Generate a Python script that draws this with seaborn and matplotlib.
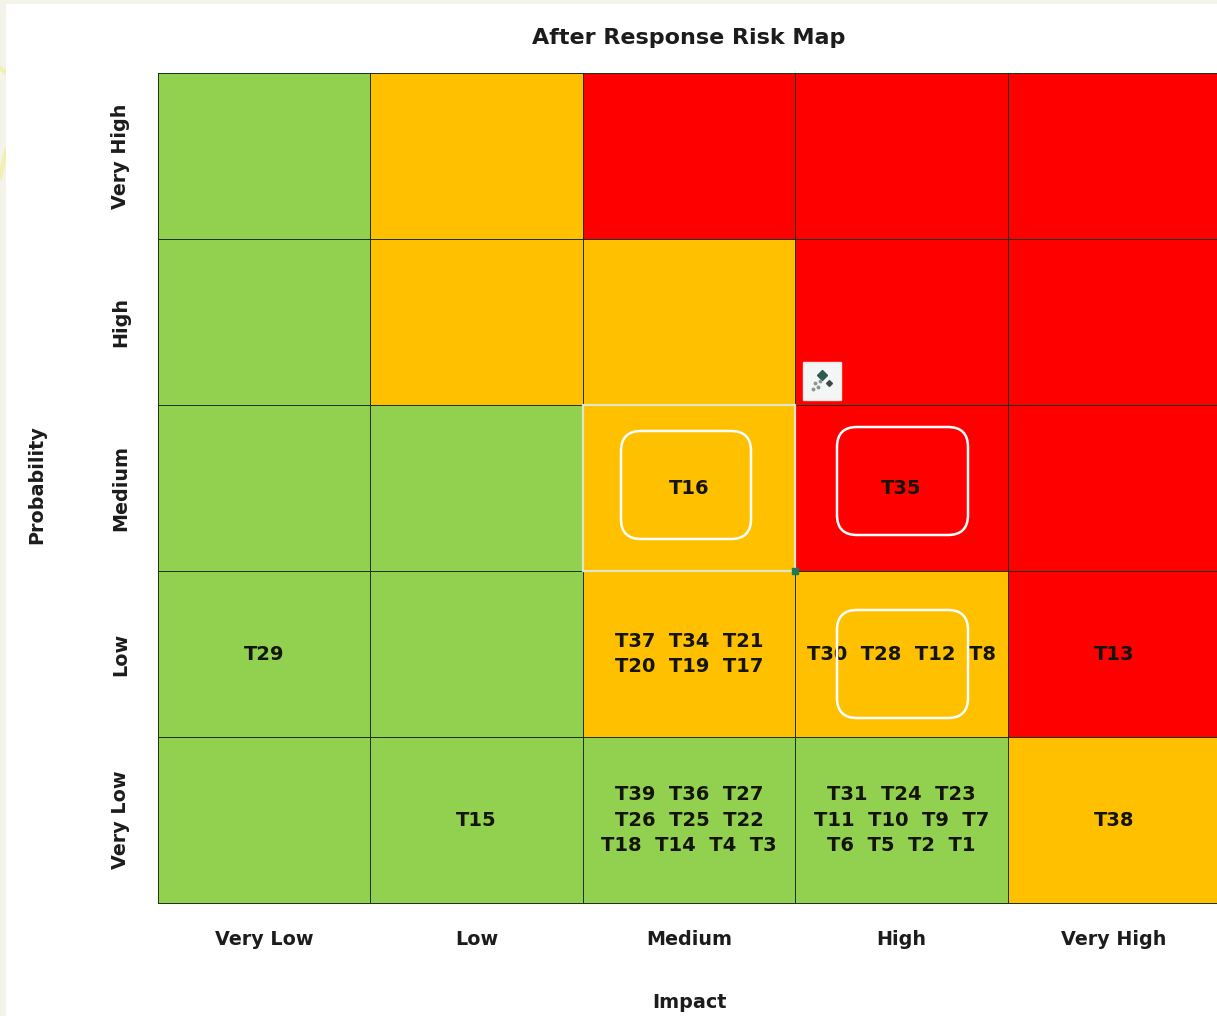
import numpy as np
import seaborn as sns
import matplotlib
matplotlib.use("Agg")
import matplotlib.pyplot as plt
from matplotlib.colors import ListedColormap
from matplotlib.lines import Line2D
from matplotlib.patches import FancyBboxPatch, Rectangle
from matplotlib.transforms import IdentityTransform

W, H = 1217, 1016

impact = ['Very Low', 'Low', 'Medium', 'High', 'Very High']
probability = ['Very High', 'High', 'Medium', 'Low', 'Very Low']

# 0 green, 1 amber, 2 red
levels = [[0, 1, 2, 2, 2],
          [0, 1, 1, 2, 2],
          [0, 0, 1, 2, 2],
          [0, 0, 1, 1, 2],
          [0, 0, 0, 0, 1]]

tasks = [['', '', '', '', ''],
         ['', '', '', '', ''],
         ['', '', 'T16', 'T35', ''],
         ['T29', '', 'T37  T34  T21\nT20  T19  T17', 'T30  T28  T12  T8', 'T13'],
         ['', 'T15', 'T39  T36  T27\nT26  T25  T22\nT18  T14  T4  T3',
          'T31  T24  T23\nT11  T10  T9  T7\nT6  T5  T2  T1', 'T38']]

colors = ['#92D050', '#FFC000', '#FF0000']

# white callout boxes, in image pixels: left, top, right, bottom
callouts = [(621, 431, 751, 539), (837, 427, 968, 535), (837, 610, 968, 718)]


def to_disp(x, y):
    return x, H - y


sns.set_theme(style='white')
plt.rcParams['font.family'] = ['DejaVu Sans']

fig = plt.figure(figsize=(W / 100, H / 100), dpi=100, facecolor='#F3F3EA')
# white page on the cream surround, faint yellow streaks in the left margin
fig.patches.append(Rectangle((6 / W, 0), 1, 1 - 4 / H, transform=fig.transFigure,
                             facecolor='white', edgecolor='none', zorder=-5))
fig.add_artist(Line2D([0, 6 / W], [1 - 68 / H, 1 - 73 / H], color='#F2F0B0', linewidth=3, zorder=-6))
fig.add_artist(Line2D([0, 6 / W], [1 - 178 / H, 1 - 150 / H], color='#F2F0B0', linewidth=3, zorder=-6))

ax = fig.add_axes([158 / W, 1 - 903 / H, 1062 / W, 830 / H])
sns.heatmap(np.array(levels), ax=ax, cmap=ListedColormap(colors), vmin=0, vmax=2,
            cbar=False, annot=np.array(tasks), fmt='', linewidths=0.7, linecolor='#1f3316',
            annot_kws={'color': '#141408', 'fontsize': 14, 'fontweight': 'bold', 'linespacing': 1.43},
            xticklabels=impact, yticklabels=probability, clip_on=False)

ax.tick_params(axis='both', length=0)
ax.set_xticklabels(impact, fontsize=13.8, fontweight='bold', color='#1c1c1c')
ax.set_yticklabels(probability, fontsize=13.8, fontweight='bold', color='#1c1c1c',
                   rotation=90, va='center')
ax.tick_params(axis='x', pad=19.5)
ax.tick_params(axis='y', pad=20)

fig.text(689 / W, 1 - 38 / H, 'After Response Risk Map', ha='center', va='center',
         fontsize=16, fontweight='bold', color='#1c1c1c')
fig.text(689 / W, 1 - 1002 / H, 'Impact', ha='center', va='center',
         fontsize=13.8, fontweight='bold', color='#1c1c1c')
fig.text(37 / W, 1 - 485 / H, 'Probability', ha='center', va='center', rotation=90,
         fontsize=13.8, fontweight='bold', color='#1c1c1c')

# selected cell outline around the Medium/Medium square
ax.add_patch(Rectangle((2, 2), 1, 1, fill=False, edgecolor='#DDE8C8', linewidth=1.6, zorder=4))
ax.plot([3], [3], marker='s', markersize=5, color='#1F7A55', zorder=5)

for left, top, right, bottom in callouts:
    x0, y0 = to_disp(left + 16, bottom - 16)
    box = FancyBboxPatch((x0, y0), right - left - 32, bottom - top - 32,
                         boxstyle='round,pad=16,rounding_size=20', transform=IdentityTransform(),
                         fill=False, edgecolor='white', linewidth=1.8, zorder=6)
    fig.add_artist(box)

# small smart tag icon
fig.add_artist(Rectangle((803 / W, 1 - 400 / H), 38 / W, 38 / H, transform=fig.transFigure,
                         facecolor='#F4F6F6', edgecolor='#E8E8E8', linewidth=1, zorder=6))
fig.add_artist(Line2D([822 / W], [1 - 375 / H], marker='D', markersize=5, color='#2f5a50',
                      linestyle='none', zorder=7))
fig.add_artist(Line2D([829 / W], [1 - 383 / H], marker='D', markersize=3, color='#3a4a48',
                      linestyle='none', zorder=7))
fig.add_artist(Line2D([815 / W, 820 / W, 813 / W, 818 / W], [1 - 383 / H, 1 - 381 / H, 1 - 389 / H, 1 - 387 / H],
                      marker='o', markersize=1.8, color='#8a9692', linestyle='none', zorder=7))

fig.savefig('out.png', dpi=100, facecolor=fig.get_facecolor())
